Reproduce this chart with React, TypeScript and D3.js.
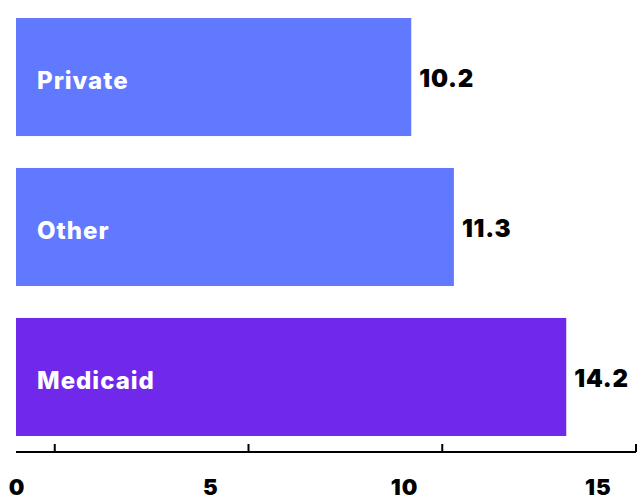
import React from "react";
import * as d3 from "d3";

const categories = ["Private", "Other", "Medicaid"];
const values = [10.2, 11.3, 14.2];
const barColors = ["#6079ff", "#6079ff", "#7029ea"];
const tickValues = [0, 5, 10, 15];

export default function App() {
  const width = 644;
  const height = 500;
  const x = d3.scaleLinear().domain([0, 16]).range([16, 636]);
  const y = d3.scaleBand<string>().domain(categories).range([18, 436]).paddingInner(0.213).paddingOuter(0);
  const axisY = 452;
  const font = "Inter, 'Noto Sans', sans-serif";
  return (
    <svg width={width} height={height} style={{ position: "absolute", left: 0, top: 0 }}>
      {categories.map((c, i) => {
        const y0 = y(c) as number;
        const bw = y.bandwidth();
        const cy = y0 + bw / 2;
        return (
          <g key={c}>
            <rect x={x(0)} y={y0} width={x(values[i]) - x(0)} height={bw} fill={barColors[i]} />
            <text x={37} y={cy + 12} fill="#fff" fontFamily={font} fontWeight={800} fontSize={24} letterSpacing={1}>
              {c}
            </text>
            <text x={x(values[i]) + 8} y={cy + 10} fill="#000" fontFamily={font} fontWeight={900} fontSize={24} letterSpacing={0.8}>
              {d3.format(".1f")(values[i])}
            </text>
          </g>
        );
      })}
      <line x1={x(0)} x2={x(16)} y1={axisY} y2={axisY} stroke="#000" strokeWidth={2} />
      {tickValues.map((t) => (
        <g key={t}>
          <line x1={x(t + 1)} x2={x(t + 1)} y1={axisY} y2={axisY - 8} stroke="#000" strokeWidth={2} />
          <text x={x(t) + 1} y={495} textAnchor="middle" fill="#000" fontFamily={font} fontWeight={900} fontSize={22} letterSpacing={1}>
            {t}
          </text>
        </g>
      ))}
    </svg>
  );
}
